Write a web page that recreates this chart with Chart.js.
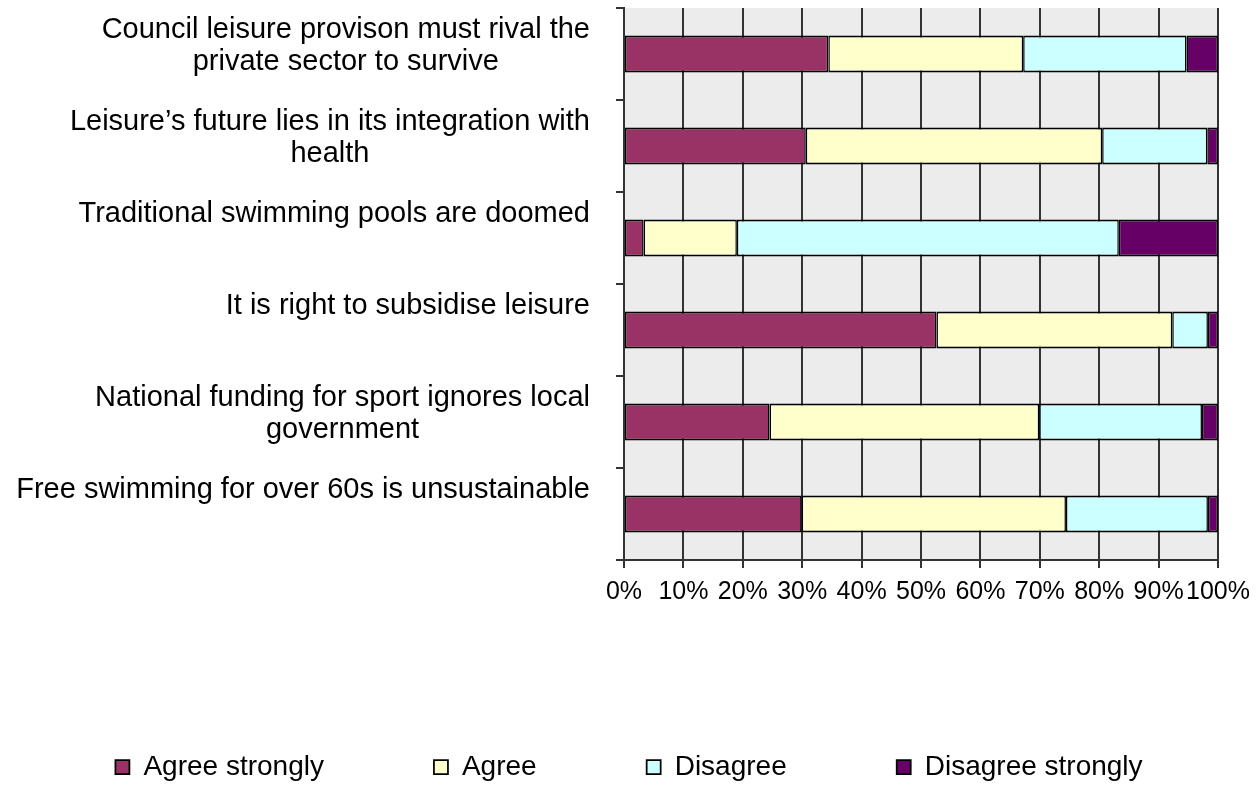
<!DOCTYPE html>
<html>
<head>
<meta charset="utf-8">
<script src="https://cdn.jsdelivr.net/npm/chart.js@4"></script>
<style>
  body { margin: 0; overflow: hidden; background: #fff; }
  #wrap { width: 1258px; height: 791px; }
</style>
</head>
<body>
<div id="wrap"><canvas id="surveyChart"></canvas></div>
<script>
const statements = [
    ['Council leisure provison must rival the', 'private sector to survive'],
    ['Leisure\u2019s future lies in its integration with', 'health'],
    ['Traditional swimming pools are doomed'],
    ['It is right to subsidise leisure'],
    ['National funding for sport ignores local', 'government'],
    ['Free swimming for over 60s is unsustainable']
];
const seriesNames = ['Agree strongly', 'Agree', 'Disagree', 'Disagree strongly'];
const agreeStrongly = [34.4, 30.6, 3.3, 52.6, 24.5, 29.9];
const agree = [32.8, 49.9, 15.7, 39.7, 45.4, 44.5];
const disagree = [27.5, 17.7, 64.3, 6.0, 27.4, 23.9];
const disagreeStrongly = [5.3, 1.8, 16.7, 1.7, 2.7, 1.7];
const percentTicks = [0, 10, 20, 30, 40, 50, 60, 70, 80, 90, 100];

const seriesColors = ['#993366', '#ffffcc', '#ccffff', '#660066'];
const labelFont = '29px "Liberation Sans", Arial, sans-serif';

// grey plot area like the original
const plotBackground = {
    id: 'plotBackground',
    beforeDraw(chart) {
        const { ctx, chartArea: a } = chart;
        ctx.save();
        ctx.fillStyle = '#ececec';
        ctx.fillRect(a.left, a.top, a.right - a.left, a.bottom - a.top);
        ctx.restore();
    }
};

// category labels: block right aligned, lines centred inside the block
const statementLabels = {
    id: 'statementLabels',
    afterDraw(chart) {
        const { ctx } = chart;
        const yScale = chart.scales.y;
        ctx.save();
        ctx.font = labelFont;
        ctx.fillStyle = '#000';
        ctx.textAlign = 'center';
        ctx.textBaseline = 'middle';
        chart.data.labels.forEach((lines, i) => {
            const centre = yScale.getPixelForValue(i);
            const widest = Math.max(...lines.map(l => ctx.measureText(l).width));
            const x = 590 - widest / 2;
            lines.forEach((line, j) => {
                ctx.fillText(line, x, centre - 24 + j * 32);
            });
        });
        ctx.restore();
    }
};

const seriesData = [agreeStrongly, agree, disagree, disagreeStrongly];

new Chart(document.getElementById('surveyChart'), {
    type: 'bar',
    data: {
        labels: statements,
        datasets: seriesNames.map((name, i) => ({
            label: name,
            data: seriesData[i],
            backgroundColor: seriesColors[i],
            borderColor: '#000',
            borderWidth: { top: 2, bottom: 2, left: 1.5, right: 1.5 },
            borderSkipped: false,
            barPercentage: 0.4,
            categoryPercentage: 1
        }))
    },
    options: {
        indexAxis: 'y',
        responsive: true,
        maintainAspectRatio: false,
        animation: false,
        layout: { padding: { top: 8, right: 0, left: 0, bottom: 0 } },
        plugins: {
            tooltip: { enabled: false },
            legend: {
                position: 'bottom',
                labels: {
                    color: '#000',
                    font: { family: '"Liberation Sans", Arial, sans-serif', size: 28 },
                    boxWidth: 14,
                    boxHeight: 14,
                    padding: 110
                }
            }
        },
        scales: {
            x: {
                stacked: true,
                min: 0,
                max: 100,
                afterBuildTicks: (scale) => {
                    scale.ticks = percentTicks.map(v => ({ value: v }));
                },
                afterFit: (scale) => {
                    scale.height = 83;
                    scale.paddingRight = 40;
                },
                ticks: {
                    autoSkip: false,
                    maxRotation: 0,
                    padding: 9,
                    color: '#000',
                    font: { family: '"Liberation Sans", Arial, sans-serif', size: 25 },
                    callback: (v) => v + '%'
                },
                grid: {
                    color: '#333',
                    lineWidth: 2,
                    tickLength: 8
                },
                border: { display: true, color: '#333', width: 2 }
            },
            y: {
                stacked: true,
                offset: true,
                afterFit: (scale) => { scale.width = 624; },
                ticks: { display: false },
                grid: {
                    offset: true,
                    drawOnChartArea: false,
                    color: '#333',
                    lineWidth: 2,
                    tickLength: 8
                },
                border: { display: true, color: '#333', width: 2 }
            }
        }
    },
    plugins: [plotBackground, statementLabels]
});
</script>
</body>
</html>
